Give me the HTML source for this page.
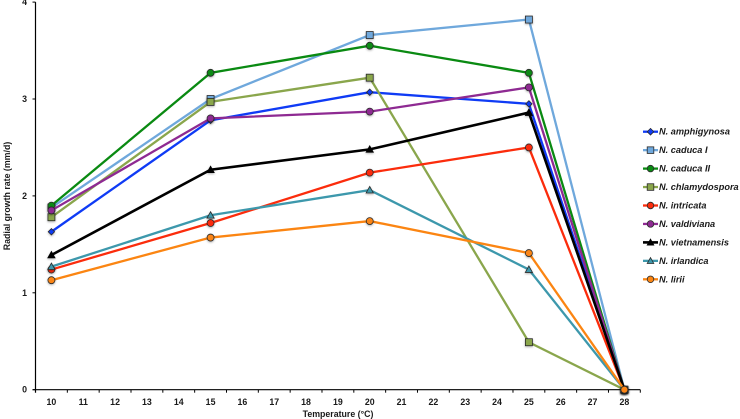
<!DOCTYPE html>
<html>
<head>
<meta charset="utf-8">
<style>
html,body{margin:0;padding:0;background:#fff;width:740px;height:419px;overflow:hidden}
svg{display:block}
text{font-family:"Liberation Sans",sans-serif;font-weight:bold;fill:#1a1a1a}
</style>
</head>
<body>
<svg id="chart" width="740" height="419" viewBox="0 0 740 419" xmlns="http://www.w3.org/2000/svg">
<defs>
<filter id="shadow" x="-50%" y="-50%" width="200%" height="200%">
<feDropShadow dx="0" dy="1" stdDeviation="1" flood-color="#000" flood-opacity="0.3"/>
</filter>
</defs>
</svg>
<script>
const xCategories = [10, 11, 12, 13, 14, 15, 16, 17, 18, 19, 20, 21, 22, 23, 24, 25, 26, 27, 28];
const yTicks = [0, 1, 2, 3, 4];
const measuredTemps = [10, 15, 20, 25, 28];
const amphigynosa = [1.63, 2.78, 3.07, 2.95, 0];
const caducaI = [1.88, 3.0, 3.66, 3.82, 0];
const caducaII = [1.9, 3.27, 3.55, 3.27, 0];
const chlamydospora = [1.78, 2.97, 3.22, 0.49, 0];
const intricata = [1.24, 1.72, 2.24, 2.5, 0];
const valdiviana = [1.85, 2.8, 2.87, 3.12, 0];
const vietnamensis = [1.39, 2.27, 2.48, 2.86, 0];
const irlandica = [1.27, 1.8, 2.06, 1.24, 0];
const lirii = [1.13, 1.57, 1.74, 1.41, 0];
const seriesNames = ["N. amphigynosa", "N. caduca I", "N. caduca II", "N. chlamydospora", "N. intricata", "N. valdiviana", "N. vietnamensis", "N. irlandica", "N. lirii"];
const seriesValues = [amphigynosa, caducaI, caducaII, chlamydospora, intricata, valdiviana, vietnamensis, irlandica, lirii];
const seriesColors = ["#0f3bf5", "#6fa8dc", "#0a8a12", "#8aa64c", "#fb2c0c", "#8e2a92", "#000000", "#3d98ac", "#fb8512"];
const seriesMarkers = ["diamond", "square", "circle", "square", "circle", "circle", "triangle", "triangle", "circle"];
const seriesWidths = [2.3, 2.3, 2.3, 2.3, 2.3, 2.3, 2.6, 2.3, 2.3];

const NS = "http://www.w3.org/2000/svg";
const svg = document.getElementById("chart");
const plotLeft = 35.5, plotRight = 640.3, plotBottom = 389.7, unitHeight = 96.9;
const catWidth = (plotRight - plotLeft) / xCategories.length;
function xScale(v) { return plotLeft + (v - xCategories[0] + 0.5) * catWidth; }
function yScale(v) { return plotBottom - v * unitHeight; }
function make(tag, attrs, parent) {
  const el = document.createElementNS(NS, tag);
  for (const k in attrs) el.setAttribute(k, attrs[k]);
  (parent || svg).appendChild(el);
  return el;
}
function drawMarker(parent, type, cx, cy, color, s) {
  const stroke = color === "#000000" ? "#000" : "#2a2a2a";
  const common = { fill: color, stroke: stroke, "stroke-width": 0.8 };
  if (type === "circle") return make("circle", Object.assign({ cx: cx, cy: cy, r: s }, common), parent);
  if (type === "square") return make("rect", Object.assign({ x: cx - s, y: cy - s, width: 2 * s, height: 2 * s }, common), parent);
  if (type === "diamond") return make("polygon", Object.assign({ points: [cx, cy - s, cx + s, cy, cx, cy + s, cx - s, cy].join(",") }, common), parent);
  return make("polygon", Object.assign({ points: [cx, cy - s, cx + s, cy + s * 0.8, cx - s, cy + s * 0.8].join(",") }, common), parent);
}

const xAxisGroup = make("g", {});


const yAxisGroup = make("g", {});



const yAxisLine = make("line", { x1: plotLeft, x2: plotLeft, y1: yScale(yTicks[yTicks.length - 1]), y2: plotBottom + 3, stroke: "#000", "stroke-width": 1.2 }, yAxisGroup);


const xAxisLine = make("line", { x1: plotLeft - 3, x2: plotRight, y1: plotBottom, y2: plotBottom, stroke: "#000", "stroke-width": 1.2 }, xAxisGroup);



yTicks.forEach(function (t) {
  const tick = make("line", { x1: plotLeft - 3, x2: plotLeft, y1: yScale(t), y2: yScale(t), stroke: "#000", "stroke-width": 1 }, yAxisGroup);
  
  
  const label = make("text", { x: 27, y: yScale(t) + 3, "text-anchor": "end", "font-size": 8.8 }, yAxisGroup);
  label.textContent = t;
  
  
});
xCategories.forEach(function (c, i) {
  const tx = plotLeft + (i + 1) * catWidth;
  const tick = make("line", { x1: tx, x2: tx, y1: plotBottom, y2: plotBottom + 3, stroke: "#000", "stroke-width": 1 }, xAxisGroup);
  
  
  const label = make("text", { x: xScale(c), y: 405, "text-anchor": "middle", "font-size": 8.8 }, xAxisGroup);
  label.textContent = c;
  
  
});

const xTitle = make("text", { x: 338, y: 417, "text-anchor": "middle", "font-size": 8.8 });
xTitle.textContent = "Temperature (°C)";


const yTitle = make("text", { x: 7, y: 196, "text-anchor": "middle", "font-size": 8.8, transform: "rotate(-90 7 196)" });
yTitle.setAttribute('dy', '3');
yTitle.textContent = "Radial growth rate (mm/d)";



const seriesLayer = make("g", {});


seriesValues.forEach(function (vals, i) {
  const g = make("g", {}, seriesLayer);
  
  
  const pts = vals.map(function (v, j) { return xScale(measuredTemps[j]) + "," + yScale(v); }).join(" ");
  make("polyline", { points: pts, fill: "none", stroke: seriesColors[i], "stroke-width": seriesWidths[i], "stroke-linejoin": "miter" }, g);
  vals.forEach(function (v, j) {
    const s = seriesMarkers[i] === "diamond" ? 3.2 : seriesMarkers[i] === "triangle" ? 3.6 : 3.5;
    const m = drawMarker(g, seriesMarkers[i], xScale(measuredTemps[j]), yScale(v), seriesColors[i], s);
    m.setAttribute('filter', 'url(#shadow)');
    
    
  });
});

const legend = make("g", {});


seriesNames.forEach(function (name, i) {
  const ly = 131.7 + i * 18.45;
  const entry = make("g", {}, legend);
  
  
  make("line", { x1: 643, x2: 658, y1: ly, y2: ly, stroke: seriesColors[i], "stroke-width": seriesWidths[i] }, entry);
  drawMarker(entry, seriesMarkers[i], 650.5, ly, seriesColors[i], 3.3);
  const t = make("text", { x: 659, y: ly + 3, "font-size": 9.2, "font-style": "italic" }, entry);
  t.textContent = name;
});
</script>
</body>
</html>
